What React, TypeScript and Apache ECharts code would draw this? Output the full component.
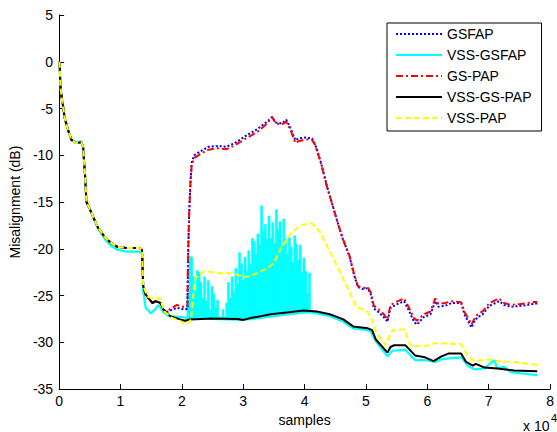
import React, { useEffect, useRef } from "react";
import * as echarts from "echarts";

const FONT = 'Arial, "Liberation Sans", sans-serif';

const seriesNames = ["GSFAP", "VSS-GSFAP", "GS-PAP", "VSS-GS-PAP", "VSS-PAP"];

// x in units of 10^4 samples, y in dB
const sharedStart: number[][] = [
  [0, 0], [0.01, -0.6], [0.02, -2.5], [0.04, -3.8], [0.065, -4.8], [0.09, -6.0], [0.145, -7.3],
  [0.2, -8.35], [0.28, -8.7], [0.36, -8.6], [0.39, -9.06], [0.42, -11.9], [0.445, -15], [0.5, -15.75],
  [0.63, -17.7], [0.75, -18.8], [0.85, -19.4], [0.95, -19.8], [1.1, -19.9], [1.3, -19.9], [1.35, -20.1],
];

const gsfapTail: number[][] = [
  [1.37, -24], [1.41, -24.9], [1.52, -25.8], [1.57, -25.6], [1.65, -25.8], [1.7, -26.5], [1.75, -26.8],
  [1.84, -26.5], [1.92, -26.3], [1.97, -26.4], [2.05, -26.5], [2.09, -26.4], [2.1, -21], [2.12, -16],
  [2.14, -12.8], [2.16, -10.8], [2.2, -10.0], [2.32, -9.5], [2.43, -9.1], [2.59, -9.0], [2.72, -9.1],
  [2.86, -8.7], [3.07, -7.8], [3.23, -7.2], [3.39, -6.4], [3.47, -5.9], [3.53, -6.5], [3.63, -6.6],
  [3.7, -6.2], [3.77, -7.1], [3.85, -8.4], [3.9, -8.2], [4.01, -8.1], [4.12, -8.2], [4.17, -8.8],
  [4.25, -10.4], [4.3, -11.6], [4.36, -13.2], [4.44, -15], [4.52, -16.8], [4.62, -18.9], [4.73, -20.8],
  [4.81, -22.9], [4.87, -24.1], [4.95, -24.3], [5.03, -24.2], [5.08, -24.9], [5.13, -26.4], [5.21, -26.8],
  [5.29, -27.3], [5.35, -27.8], [5.4, -26.3], [5.48, -26.0], [5.62, -25.6], [5.7, -26.6], [5.78, -27.8],
  [5.83, -28.1], [5.94, -27.3], [6.05, -27.0], [6.13, -25.6], [6.18, -26.2], [6.29, -26.1], [6.39, -25.8],
  [6.55, -25.8], [6.61, -27.1], [6.72, -28.4], [6.77, -27.7], [6.82, -27.3], [6.9, -27.0], [7.01, -26.1],
  [7.17, -25.6], [7.25, -26.0], [7.36, -26.2], [7.52, -26.1], [7.73, -25.9], [7.82, -25.8],
];

const vssGsfapData: number[][] = [
  [0, 0], [0.01, -0.6], [0.02, -2.5], [0.04, -3.8], [0.065, -4.8], [0.09, -6.0], [0.145, -7.3],
  [0.2, -8.3], [0.28, -8.6], [0.36, -8.5], [0.39, -9.06], [0.42, -11.9], [0.445, -15], [0.5, -15.8],
  [0.63, -17.8], [0.75, -19.0], [0.85, -19.7], [0.95, -20.1], [1.1, -20.3], [1.3, -20.3], [1.35, -20.5],
  [1.37, -24.5], [1.41, -26.3], [1.49, -26.9], [1.56, -26.5], [1.62, -26.0], [1.7, -26.8], [1.78, -27.2],
  [2.0, -27.3], [2.08, -27.4], [2.5, -27.5], [3.0, -27.6], [3.5, -27.2], [4.0, -26.8], [4.1, -26.8],
  [4.2, -26.9], [4.41, -27.2], [4.63, -27.8], [4.79, -28.5], [5.03, -28.7], [5.08, -28.9], [5.16, -29.9],
  [5.35, -31.5], [5.43, -30.9], [5.64, -30.8], [5.8, -31.9], [5.96, -31.9], [6.13, -32.1], [6.23, -31.8],
  [6.55, -31.6], [6.66, -32.5], [6.77, -32.9], [6.93, -32.8], [7.0, -32.4], [7.09, -31.9], [7.14, -32.8],
  [7.25, -32.6], [7.36, -33.2], [7.79, -33.5],
];

// noisy burst of VSS-GSFAP between 2.1 and 4.1 (x 10^4 samples)
const burstX: number[] = [
  2.10, 2.13, 2.16, 2.19, 2.22, 2.25, 2.28, 2.31, 2.34, 2.37, 2.40, 2.43, 2.46, 2.49, 2.52, 2.55, 2.58,
  2.61, 2.64, 2.67, 2.70, 2.73, 2.76, 2.79, 2.82, 2.85, 2.88, 2.91, 2.94, 2.97, 3.00, 3.03, 3.06, 3.09,
  3.12, 3.15, 3.18, 3.21, 3.24, 3.27, 3.30, 3.33, 3.36, 3.39, 3.42, 3.45, 3.48, 3.51, 3.54, 3.57, 3.60,
  3.63, 3.66, 3.69, 3.72, 3.75, 3.78, 3.81, 3.84, 3.87, 3.90, 3.93, 3.96, 3.99, 4.02, 4.05, 4.08, 4.11,
];
const burstPeak: number[] = [
  -25.0, -20.8, -20.9, -23.0, -24.6, -22.3, -22.5, -23.6, -25.3, -23.0, -25.6, -23.4, -26.6, -24.0, -24.8, -26.3, -25.5,
  -27.3, -27.3, -26.5, -27.3, -25.8, -23.6, -25.3, -23.0, -24.6, -22.1, -23.8, -20.4, -21.6, -23.4, -20.9, -22.4, -20.2,
  -21.7, -18.9, -19.2, -20.6, -18.4, -19.6, -15.4, -18.2, -17.4, -19.0, -16.5, -18.9, -17.2, -19.4, -15.8, -18.0, -17.1,
  -19.8, -16.8, -19.0, -20.6, -18.8, -19.8, -21.4, -18.6, -19.5, -21.2, -19.6, -22.5, -21.0, -22.4, -24.8, -22.6, -26.6,
];
const burstBase: number[] = [
  -27.55, -27.55, -27.5, -27.5, -27.5, -27.5, -27.5, -27.5, -27.5, -27.5, -27.5, -27.5, -27.5, -27.5, -27.5, -27.5, -27.5,
  -27.5, -27.5, -27.5, -27.5, -27.5, -27.5, -27.5, -27.5, -27.5, -27.5, -27.5, -27.55, -27.6, -27.6, -27.55, -27.5, -27.45,
  -27.4, -27.4, -27.35, -27.3, -27.3, -27.25, -27.2, -27.15, -27.1, -27.05, -27.0, -27.0, -26.95, -26.95, -26.9, -26.9, -26.9,
  -26.85, -26.85, -26.8, -26.8, -26.8, -26.75, -26.75, -26.7, -26.7, -26.7, -26.65, -26.6, -26.6, -26.6, -26.6, -26.65, -26.65,
];

const gsPapTail: number[][] = [
  [1.37, -24], [1.41, -24.9], [1.52, -25.8], [1.57, -25.6], [1.65, -25.8], [1.7, -26.5], [1.75, -26.7],
  [1.84, -26.3], [1.92, -26.0], [1.97, -26.1], [2.05, -26.25], [2.09, -26.2], [2.1, -21], [2.12, -16],
  [2.14, -13], [2.16, -11], [2.2, -10.3], [2.32, -9.8], [2.43, -9.4], [2.59, -9.25], [2.72, -9.35],
  [2.86, -8.95], [3.07, -8.1], [3.23, -7.5], [3.39, -6.6], [3.47, -5.9], [3.53, -6.6], [3.63, -6.7],
  [3.7, -6.4], [3.77, -7.3], [3.85, -8.7], [3.9, -8.5], [4.01, -8.3], [4.12, -8.35], [4.17, -8.9],
  [4.25, -10.5], [4.3, -11.7], [4.36, -13.3], [4.44, -15], [4.52, -16.8], [4.62, -18.9], [4.73, -20.7],
  [4.81, -22.8], [4.87, -24], [4.95, -24.2], [5.03, -24.1], [5.08, -24.7], [5.13, -26.1], [5.21, -26.5],
  [5.29, -27], [5.35, -27.55], [5.4, -26], [5.48, -25.7], [5.62, -25.3], [5.7, -26.3], [5.78, -27.4],
  [5.83, -27.7], [5.94, -27], [6.05, -26.7], [6.13, -25.3], [6.18, -25.9], [6.29, -25.8], [6.39, -25.6],
  [6.55, -25.7], [6.61, -26.8], [6.72, -28.1], [6.77, -27.4], [6.82, -27], [6.9, -26.7], [7.01, -25.8],
  [7.17, -25.3], [7.25, -25.8], [7.36, -26], [7.52, -25.9], [7.73, -25.7], [7.79, -25.7],
];

const vssGsPapTail: number[][] = [
  [1.37, -24], [1.41, -24.9], [1.52, -25.8], [1.57, -25.6], [1.65, -25.8], [1.7, -26.5], [1.81, -27.2],
  [1.97, -27.55], [2.05, -27.7], [2.13, -27.55], [2.5, -27.45], [2.91, -27.5], [3.0, -27.6], [3.12, -27.4],
  [3.45, -27.0], [3.71, -26.8], [3.98, -26.6], [4.2, -26.7], [4.41, -27], [4.63, -27.55], [4.79, -28.3],
  [5.03, -28.5], [5.1, -28.7], [5.16, -29.7], [5.35, -31.1], [5.4, -30.5], [5.46, -30.3], [5.64, -30.3],
  [5.8, -31.4], [5.96, -31.6], [6.1, -32], [6.23, -31.5], [6.34, -31.2], [6.55, -31.2], [6.63, -32.1],
  [6.74, -32.5], [6.79, -32.3], [6.93, -32.7], [7.14, -32.8], [7.41, -33], [7.79, -33.1],
];

const vssPapTail: number[][] = [
  [1.37, -24], [1.44, -25.1], [1.52, -25.3], [1.65, -25.3], [1.7, -26.6], [1.84, -27.4], [1.97, -27.7],
  [2.08, -28.1], [2.15, -27.55], [2.19, -24.6], [2.22, -23.2], [2.27, -22.8], [2.37, -22.4], [2.59, -22.6],
  [2.8, -22.6], [3.02, -23.0], [3.12, -22.9], [3.29, -22.4], [3.39, -22.1], [3.5, -21.5], [3.61, -20.0],
  [3.77, -18.4], [3.93, -17.5], [4.05, -17.3], [4.12, -17.3], [4.25, -18.2], [4.41, -20.3], [4.57, -22.4],
  [4.73, -24.6], [4.84, -26.2], [5.0, -26.6], [5.08, -27.2], [5.16, -28.9], [5.32, -30.3], [5.37, -29.5],
  [5.43, -28.7], [5.62, -28.6], [5.68, -29.6], [5.73, -30.4], [5.96, -30.4], [6.13, -30.1], [6.23, -30.1],
  [6.55, -30.2], [6.62, -31.0], [6.66, -31.5], [6.77, -32], [7.04, -31.8], [7.14, -32], [7.41, -32.1],
  [7.79, -32.4],
];

export default function App() {
  const ref = useRef<HTMLDivElement>(null);
  useEffect(() => {
    if (!ref.current) return;
    const chart = echarts.init(ref.current, undefined, { renderer: "svg" });
    const line = (name: string, data: number[][], color: string, type: any, width = 2, z = 2) => ({
      name,
      type: "line",
      data,
      symbol: "none",
      showSymbol: false,
      z,
      lineStyle: { color, width, type },
      itemStyle: { color },
      emphasis: { disabled: true },
    });
    chart.setOption({
      animation: false,
      grid: { left: 59, top: 15, right: 0.5, bottom: 40 },
      xAxis: {
        type: "value",
        min: 0,
        max: 8,
        interval: 1,
        name: "samples",
        nameLocation: "middle",
        nameGap: 17,
        nameTextStyle: { fontSize: 14, color: "#000", fontFamily: FONT },
        axisLine: { show: true, onZero: false, lineStyle: { color: "#000", width: 1 } },
        axisTick: { show: true, inside: true, length: 5, lineStyle: { color: "#000" } },
        axisLabel: { fontSize: 14, color: "#000", fontFamily: FONT, margin: 5, showMaxLabel: true },
        splitLine: { show: false },
      },
      yAxis: {
        type: "value",
        min: -35,
        max: 5,
        interval: 5,
        name: "Misalignment (dB)",
        nameLocation: "middle",
        nameGap: 35,
        nameTextStyle: { fontSize: 14, color: "#000", fontFamily: FONT },
        axisLine: { show: true, onZero: false, lineStyle: { color: "#000", width: 1 } },
        axisTick: { show: true, inside: true, length: 5, lineStyle: { color: "#000" } },
        axisLabel: { fontSize: 14, color: "#000", fontFamily: FONT, margin: 6 },
        splitLine: { show: false },
      },
      legend: {
        data: seriesNames,
        orient: "vertical",
        left: 387,
        top: 23,
        padding: [4, 10, 6, 8],
        itemWidth: 46,
        itemHeight: 14,
        itemGap: 7,
        borderColor: "#000",
        borderWidth: 1,
        borderRadius: 0,
        backgroundColor: "#fff",
        selectedMode: false,
        itemStyle: { opacity: 0, borderWidth: 0 },
        textStyle: { fontSize: 14, color: "#000", fontFamily: FONT },
      },
      graphic: [
        { type: "text", left: 523, top: 419, style: { text: "x 10", fontSize: 14, fill: "#000", fontFamily: FONT } },
        { type: "text", left: 551, top: 412, style: { text: "4", fontSize: 11, fill: "#000", fontFamily: FONT } },
      ],
      series: [
        line(seriesNames[0], sharedStart.concat(gsfapTail), "#0000FF", [2, 2]),
        line(seriesNames[1], vssGsfapData, "#00FFFF", "solid", 2.2),
        {
          type: "custom",
          data: burstX.map((x, i) => [x, burstBase[i], burstPeak[i]]),
          encode: { x: 0, y: [1, 2] },
          silent: true,
          z: 2,
          renderItem: (_params: any, api: any) => {
            const x = api.value(0);
            const top = api.coord([x - 0.018, api.value(2)]);
            const bottom = api.coord([x + 0.018, api.value(1)]);
            return {
              type: "rect",
              shape: { x: top[0], y: top[1], width: bottom[0] - top[0], height: bottom[1] - top[1] },
              style: { fill: "#00FFFF", stroke: "#00FFFF", lineWidth: 0.5 },
            };
          },
        },
        line(seriesNames[2], sharedStart.concat(gsPapTail), "#FF0000", [7, 3, 2, 3]),
        line(seriesNames[3], sharedStart.concat(vssGsPapTail), "#000000", "solid"),
        line(seriesNames[4], sharedStart.concat(vssPapTail), "#FFFF00", [6, 3]),
      ],
    });
    return () => chart.dispose();
  }, []);
  return (
    <div
      ref={ref}
      style={{ position: "absolute", left: 0, top: 0, width: 557, height: 432, background: "#fff" }}
    />
  );
}
